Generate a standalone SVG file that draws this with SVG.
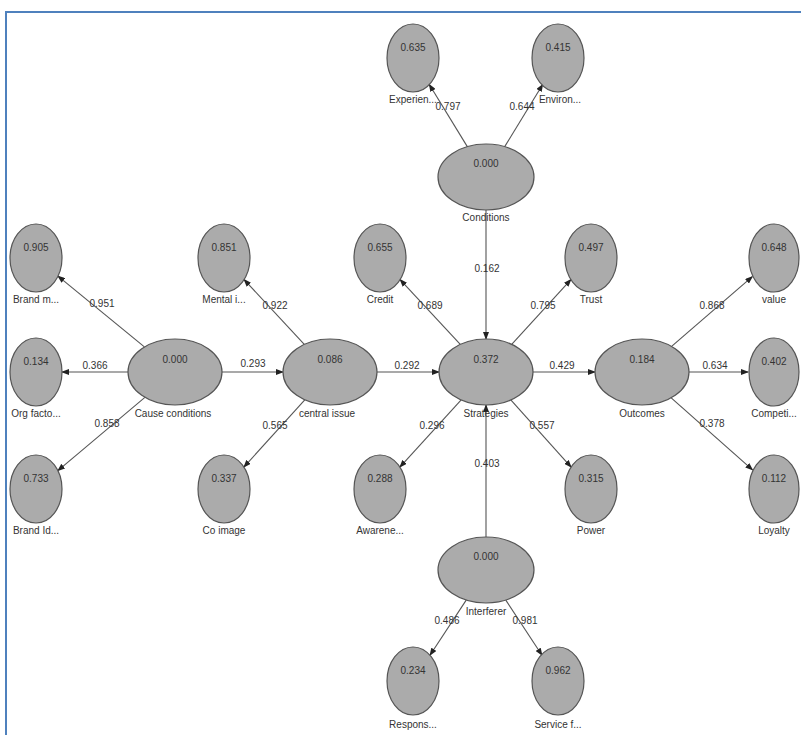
<svg xmlns="http://www.w3.org/2000/svg" width="801" height="735" viewBox="0 0 801 735">
<defs>
<marker id="ah" markerWidth="8" markerHeight="6" refX="7" refY="3" orient="auto" markerUnits="userSpaceOnUse">
<path d="M0,0 L8,3 L0,6 z" fill="#222"/>
</marker>
</defs>
<style>
.n ellipse{fill:#ababab;stroke:#555;stroke-width:1.2}
.v{font-family:"Liberation Sans",Arial,sans-serif;font-size:10px;fill:#333;text-anchor:middle}
.l{font-family:"Liberation Sans",Arial,sans-serif;font-size:10px;fill:#333;text-anchor:middle}
.e line{stroke:#555;stroke-width:1.1;marker-end:url(#ah)}
.e text{font-family:"Liberation Sans",Arial,sans-serif;font-size:10px;fill:#333;text-anchor:middle}
</style>
<rect width="801" height="735" fill="#fff"/>
<line x1="5" y1="12" x2="801" y2="12" stroke="#4f81bd" stroke-width="2"/>
<line x1="6" y1="11" x2="6" y2="735" stroke="#4f81bd" stroke-width="2"/>
<g id="connectors" class="e">
<line x1="467.3" y1="146.6" x2="429.3" y2="84.5"/>
<line x1="504.7" y1="146.6" x2="542.7" y2="84.5"/>
<line x1="486" y1="210" x2="486" y2="339"/>
<line x1="144.4" y1="346.9" x2="58" y2="276.1"/>
<line x1="128" y1="372" x2="62" y2="372"/>
<line x1="144.9" y1="397.3" x2="57.9" y2="470.6"/>
<line x1="222" y1="372" x2="283" y2="372"/>
<line x1="304.3" y1="344.4" x2="244.1" y2="279.6"/>
<line x1="304.8" y1="399.8" x2="243.9" y2="467.1"/>
<line x1="377" y1="372" x2="439" y2="372"/>
<line x1="460.3" y1="344.4" x2="400.1" y2="279.6"/>
<line x1="511.7" y1="344.4" x2="570.9" y2="279.6"/>
<line x1="461.2" y1="399.8" x2="399.9" y2="467.1"/>
<line x1="510.8" y1="399.8" x2="571.1" y2="467.1"/>
<line x1="533" y1="372" x2="595" y2="372"/>
<line x1="486" y1="537" x2="486" y2="405"/>
<line x1="671.6" y1="346.4" x2="752.3" y2="276.7"/>
<line x1="689" y1="372" x2="748" y2="372"/>
<line x1="671.2" y1="397.9" x2="752.5" y2="469.9"/>
<line x1="466.2" y1="600.1" x2="430" y2="655.2"/>
<line x1="505.8" y1="600.1" x2="542" y2="655.2"/>
<text x="448" y="110">0.797</text>
<text x="522" y="110">0.644</text>
<text x="487" y="272">0.162</text>
<text x="102" y="307">0.951</text>
<text x="95" y="369">0.366</text>
<text x="107" y="427">0.858</text>
<text x="253" y="367">0.293</text>
<text x="275" y="309">0.922</text>
<text x="275" y="429">0.565</text>
<text x="407" y="369">0.292</text>
<text x="430" y="309">0.689</text>
<text x="543" y="309">0.795</text>
<text x="562" y="369">0.429</text>
<text x="432" y="429">0.296</text>
<text x="542" y="429">0.557</text>
<text x="487" y="467">0.403</text>
<text x="712" y="309">0.868</text>
<text x="715" y="369">0.634</text>
<text x="712" y="427">0.378</text>
<text x="447" y="624">0.486</text>
<text x="525" y="624">0.981</text>
</g>
<g id="exp" class="n"><ellipse cx="413" cy="58" rx="26" ry="34"/><text class="v" x="413" y="51">0.635</text><text class="l" x="413" y="103">Experien...</text></g>
<g id="env" class="n"><ellipse cx="558" cy="58" rx="26" ry="34"/><text class="v" x="558" y="51">0.415</text><text class="l" x="560" y="103">Environ...</text></g>
<g id="cond" class="n"><ellipse cx="486" cy="177" rx="48" ry="33"/><text class="v" x="486" y="167">0.000</text><text class="l" x="486" y="221">Conditions</text></g>
<g id="brm" class="n"><ellipse cx="36" cy="258" rx="26" ry="34"/><text class="v" x="36" y="251">0.905</text><text class="l" x="36" y="303">Brand m...</text></g>
<g id="org" class="n"><ellipse cx="36" cy="372" rx="26" ry="34"/><text class="v" x="36" y="365">0.134</text><text class="l" x="36" y="417">Org facto...</text></g>
<g id="bid" class="n"><ellipse cx="36" cy="489" rx="26" ry="34"/><text class="v" x="36" y="482">0.733</text><text class="l" x="36" y="534">Brand Id...</text></g>
<g id="cause" class="n"><ellipse cx="175" cy="372" rx="47" ry="33"/><text class="v" x="175" y="363">0.000</text><text class="l" x="173" y="417">Cause conditions</text></g>
<g id="mental" class="n"><ellipse cx="224" cy="258" rx="26" ry="34"/><text class="v" x="224" y="251">0.851</text><text class="l" x="224" y="303">Mental i...</text></g>
<g id="central" class="n"><ellipse cx="330" cy="372" rx="47" ry="33"/><text class="v" x="330" y="363">0.086</text><text class="l" x="327" y="417">central issue</text></g>
<g id="coimg" class="n"><ellipse cx="224" cy="489" rx="26" ry="34"/><text class="v" x="224" y="482">0.337</text><text class="l" x="224" y="534">Co image</text></g>
<g id="credit" class="n"><ellipse cx="380" cy="258" rx="26" ry="34"/><text class="v" x="380" y="251">0.655</text><text class="l" x="380" y="303">Credit</text></g>
<g id="strat" class="n"><ellipse cx="486" cy="372" rx="47" ry="33"/><text class="v" x="486" y="363">0.372</text><text class="l" x="486" y="417">Strategies</text></g>
<g id="trust" class="n"><ellipse cx="591" cy="258" rx="26" ry="34"/><text class="v" x="591" y="251">0.497</text><text class="l" x="591" y="303">Trust</text></g>
<g id="aware" class="n"><ellipse cx="380" cy="489" rx="26" ry="34"/><text class="v" x="380" y="482">0.288</text><text class="l" x="380" y="534">Awarene...</text></g>
<g id="power" class="n"><ellipse cx="591" cy="489" rx="26" ry="34"/><text class="v" x="591" y="482">0.315</text><text class="l" x="591" y="534">Power</text></g>
<g id="outc" class="n"><ellipse cx="642" cy="372" rx="47" ry="33"/><text class="v" x="642" y="363">0.184</text><text class="l" x="642" y="417">Outcomes</text></g>
<g id="value" class="n"><ellipse cx="774" cy="258" rx="25" ry="34"/><text class="v" x="774" y="251">0.648</text><text class="l" x="774" y="303">value</text></g>
<g id="compet" class="n"><ellipse cx="774" cy="372" rx="25" ry="34"/><text class="v" x="774" y="365">0.402</text><text class="l" x="774" y="417">Competi...</text></g>
<g id="loyal" class="n"><ellipse cx="774" cy="489" rx="25" ry="34"/><text class="v" x="774" y="482">0.112</text><text class="l" x="774" y="534">Loyalty</text></g>
<g id="interf" class="n"><ellipse cx="486" cy="570" rx="48" ry="33"/><text class="v" x="486" y="560">0.000</text><text class="l" x="486" y="615">Interferer</text></g>
<g id="resp" class="n"><ellipse cx="413" cy="681" rx="26" ry="34"/><text class="v" x="413" y="674">0.234</text><text class="l" x="413" y="728">Respons...</text></g>
<g id="serv" class="n"><ellipse cx="558" cy="681" rx="26" ry="34"/><text class="v" x="558" y="674">0.962</text><text class="l" x="558" y="728">Service f...</text></g>
</svg>
